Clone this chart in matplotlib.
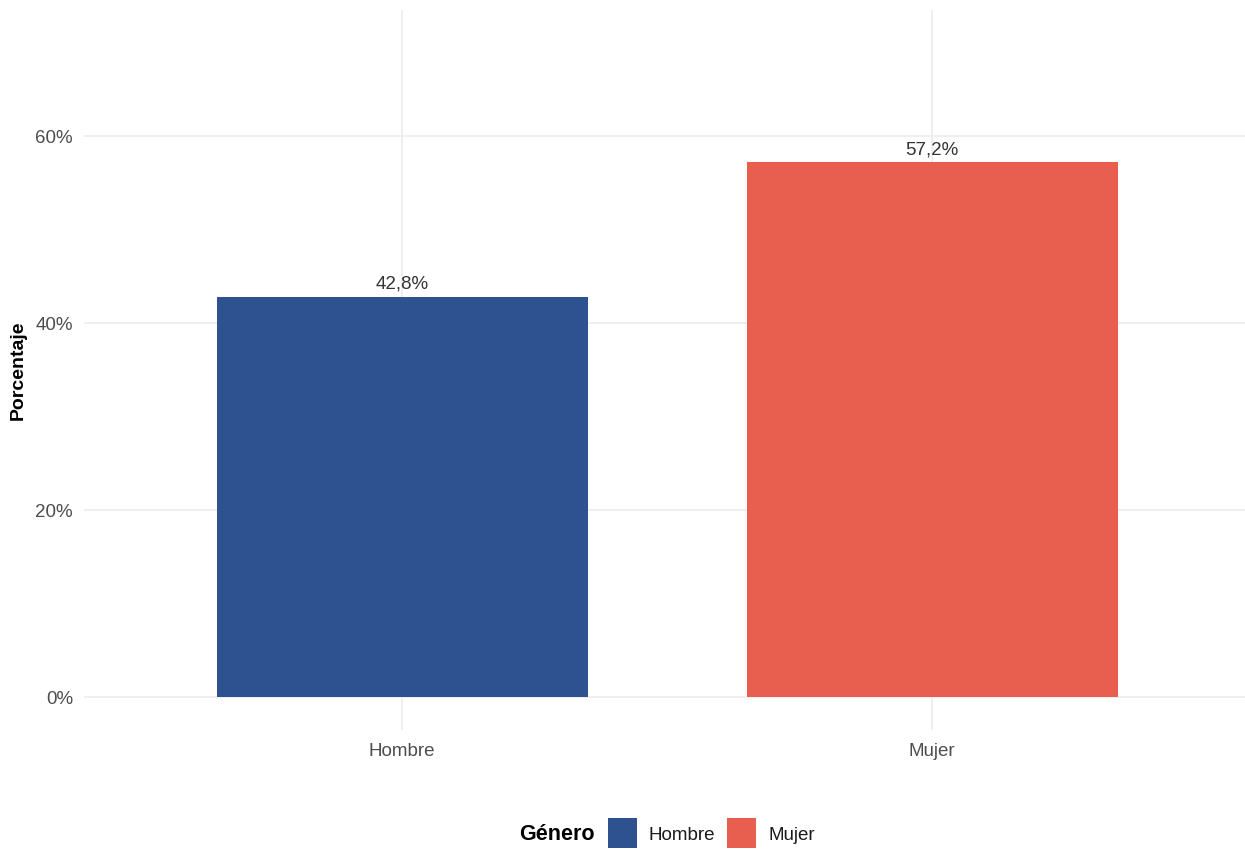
#!/usr/bin/env python3
"""Bar chart of percentage by gender (ggplot minimal look)"""

import matplotlib
matplotlib.use("Agg")
import matplotlib.pyplot as plt
from matplotlib.patches import Rectangle

plt.rcParams['font.family'] = ['Liberation Sans', 'DejaVu Sans']

#--- data
#
categories = ["Hombre", "Mujer"]
values = [42.8, 57.2]
bar_colors = ["#2E5190", "#E85F50"]
yticks = [0, 20, 40, 60]
legend_title = "Género"
ylabel = "Porcentaje"

W, H = 1245, 850
fig = plt.figure(figsize=(W / 100, H / 100), dpi=100)
# panel slightly wider than the figure on the right, like the reference
ax = fig.add_axes([84 / W, (H - 730) / H, 1166 / W, 720 / H])

x = list(range(1, len(categories) + 1))
ax.bar(x, values, width=0.7, color=bar_colors, zorder=2)

for xi, v in zip(x, values):
    ax.annotate(("%.1f%%" % v).replace(".", ","), (xi, v),
                xytext=(0, 3), textcoords="offset points",
                ha="center", va="bottom", fontsize=13.5, color="#333333",
                zorder=3)

ax.set_xlim(0.4, len(categories) + 0.6)
ax.set_ylim(-3.5, 73.5)
ax.set_xticks(x)
ax.set_xticklabels(categories)
ax.set_yticks(yticks)
ax.set_yticklabels(["%d%%" % t for t in yticks])
ax.tick_params(axis="both", length=0, labelsize=13.5, labelcolor="#4D4D4D")
ax.tick_params(axis="x", pad=9)
ax.tick_params(axis="y", pad=8)
ax.grid(True, color="#EBEBEB", linewidth=1.1, zorder=0)
ax.set_axisbelow(True)
for s in ax.spines.values():
    s.set_visible(False)

fig.text(18 / W, 1 - 370 / H, ylabel, rotation=90, ha="center", va="center",
         fontsize=14, fontweight="bold", color="black")

# legend at the bottom, laid out in pixels
ly = 835
fig.text(595 / W, 1 - ly / H, legend_title, ha="right", va="center",
         fontsize=15.5, fontweight="bold", color="black")
key_x = [608, 727]
for kx, lab, col in zip(key_x, categories, bar_colors):
    fig.add_artist(Rectangle((kx / W, 1 - 848 / H), 29 / W, 30 / H,
                             transform=fig.transFigure, facecolor=col,
                             edgecolor="none"))
    fig.text((kx + 41) / W, 1 - ly / H, lab, ha="left", va="center",
             fontsize=13.5, color="#1A1A1A")

fig.savefig("out.png", dpi=100, facecolor="white")
